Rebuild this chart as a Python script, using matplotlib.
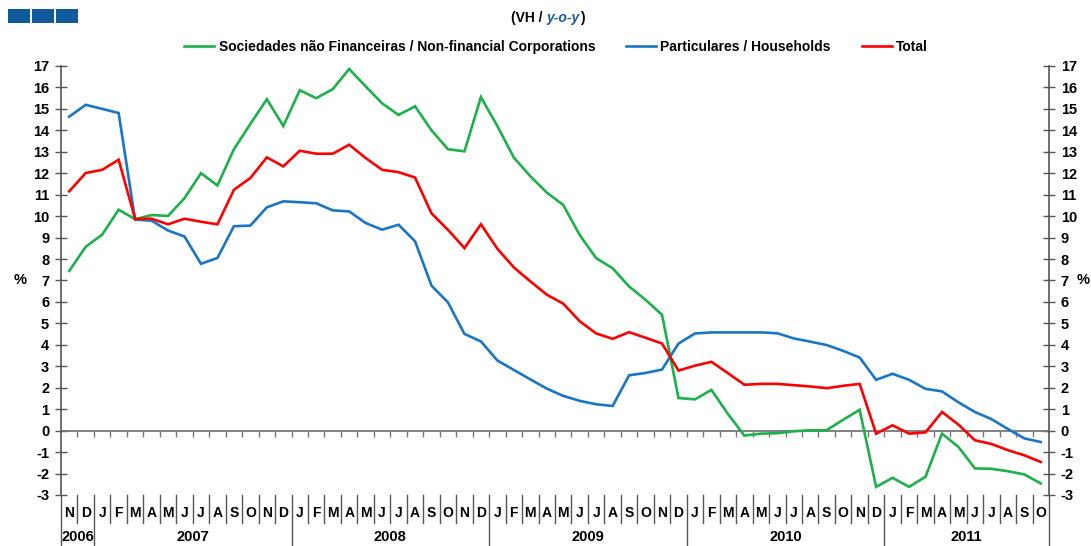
import numpy as np
import matplotlib
matplotlib.use("Agg")
import matplotlib.pyplot as plt
from matplotlib.patches import Rectangle
from matplotlib.lines import Line2D, TICKDOWN
from matplotlib.offsetbox import TextArea, HPacker, AnnotationBbox
import matplotlib.transforms as mtransforms

plt.rcParams['font.family'] = ['Liberation Sans', 'DejaVu Sans']

# ---------------- data ----------------
months = ["N", "D",
          "J", "F", "M", "A", "M", "J", "J", "A", "S", "O", "N", "D",
          "J", "F", "M", "A", "M", "J", "J", "A", "S", "O", "N", "D",
          "J", "F", "M", "A", "M", "J", "J", "A", "S", "O", "N", "D",
          "J", "F", "M", "A", "M", "J", "J", "A", "S", "O", "N", "D",
          "J", "F", "M", "A", "M", "J", "J", "A", "S", "O"]
years = ["2006", "2007", "2008", "2009", "2010", "2011"]
year_counts = [2, 12, 12, 12, 12, 10]

nfc = [7.45, 8.57, 9.14, 10.3, 9.86, 10.05, 10.01, 10.84, 12.0, 11.43,
       13.12, 14.3, 15.45, 14.2, 15.87, 15.5, 15.92, 16.86, 16.05, 15.26,
       14.72, 15.12, 14.0, 13.12, 13.02, 15.55, 14.2, 12.73, 11.86, 11.1,
       10.52, 9.12, 8.04, 7.57, 6.72, 6.1, 5.4, 1.52, 1.46, 1.9,
       0.78, -0.23, -0.14, -0.12, -0.03, 0.02, 0.02, 0.51, 0.97, -2.62,
       -2.2, -2.62, -2.15, -0.14, -0.76, -1.76, -1.78, -1.89, -2.04, -2.46]

households = [14.64, 15.19, 15.0, 14.81, 9.84, 9.79, 9.33, 9.05, 7.78, 8.05,
              9.53, 9.56, 10.41, 10.69, 10.65, 10.6, 10.27, 10.22, 9.68, 9.37,
              9.6, 8.83, 6.76, 5.98, 4.51, 4.16, 3.27, 2.83, 2.39, 1.96,
              1.62, 1.39, 1.23, 1.15, 2.58, 2.69, 2.85, 4.06, 4.53, 4.58,
              4.58, 4.58, 4.58, 4.54, 4.3, 4.15, 3.99, 3.72, 3.41, 2.37,
              2.65, 2.37, 1.95, 1.83, 1.32, 0.87, 0.54, 0.08, -0.36, -0.53]

total = [11.16, 12.01, 12.16, 12.63, 9.87, 9.88, 9.62, 9.88, 9.74, 9.62,
         11.23, 11.78, 12.74, 12.32, 13.05, 12.91, 12.91, 13.33, 12.71, 12.16,
         12.05, 11.8, 10.13, 9.36, 8.51, 9.62, 8.48, 7.61, 6.96, 6.34,
         5.92, 5.1, 4.53, 4.28, 4.59, 4.33, 4.06, 2.8, 3.03, 3.21,
         2.68, 2.14, 2.18, 2.18, 2.12, 2.06, 1.98, 2.09, 2.18, -0.14,
         0.25, -0.14, -0.08, 0.87, 0.28, -0.45, -0.62, -0.91, -1.15, -1.46]

series_labels = ["Sociedades não Financeiras / Non-financial Corporations",
                 "Particulares / Households", "Total"]
series_colors = ["#1db04b", "#1a75c4", "#ff0000"]

yticks = list(range(-3, 18))

# ---------------- figure ----------------
W, H = 1091, 546
fig = plt.figure(figsize=(W / 100, H / 100), dpi=100)
ax_l, ax_r, ax_t, ax_b = 61, 1049, 66, 495
ax = fig.add_axes([ax_l / W, 1 - ax_b / H, (ax_r - ax_l) / W, (ax_b - ax_t) / H])

n = len(months)
x = np.arange(n)
for vals, lab, col in zip([nfc, households, total], series_labels, series_colors):
    ax.plot(x, vals, color=col, lw=1.9, label=lab, solid_joinstyle='miter', zorder=3)

ax.set_xlim(-0.5, n - 0.5)
ax.set_ylim(-3, 17)

for s in ['top', 'bottom']:
    ax.spines[s].set_visible(False)
for s in ['left', 'right']:
    ax.spines[s].set_color('#555555')
    ax.spines[s].set_linewidth(1.2)

ax.set_yticks(yticks)
ax.set_yticklabels([str(v) for v in yticks])
ax.tick_params(axis='y', which='both', direction='inout', length=9, width=1,
               color='#555555', left=True, right=True, labelleft=True,
               labelright=True, labelsize=10.5, pad=4)
for lbl in ax.get_yticklabels():
    lbl.set_fontweight('bold')
ax.set_xticks([])

# zero line with downward ticks at month boundaries
ax.axhline(0, color='#777777', lw=1.3, zorder=2)
bounds = np.arange(n + 1) - 0.5
ax.plot(bounds[1:-1], np.zeros(n - 1), ls='none', marker=TICKDOWN, ms=4,
        mew=1, color='#777777', zorder=2)

# month labels and separators below the plot
trans = mtransforms.blended_transform_factory(ax.transData, ax.transAxes)
ah = ax_b - ax_t
for i, m in enumerate(months):
    ax.text(i, -18 / ah, m, transform=trans, ha='center', va='center',
            fontsize=10, fontweight='bold', clip_on=False)
year_starts = np.cumsum([0] + year_counts)
for b in bounds:
    is_year = (b + 0.5) in year_starts
    y1 = -52 / ah if is_year else -28 / ah
    ax.add_line(Line2D([b, b], [0, y1], transform=trans, color='#555555',
                       lw=1.0, clip_on=False))
for yr, s0, c in zip(years, year_starts[:-1], year_counts):
    ax.text(s0 + c / 2 - 0.5, -42 / ah, yr, transform=trans, ha='center',
            va='center', fontsize=10.5, fontweight='bold', clip_on=False)

# % labels
ytrans = mtransforms.blended_transform_factory(ax.transAxes, ax.transData)
ax.text(-41 / (ax_r - ax_l), 7, "%", transform=ytrans,
        ha='center', va='center', fontsize=10.5, fontweight='bold', clip_on=False)
ax.text(1 + 34 / (ax_r - ax_l), 7, "%", transform=ytrans,
        ha='center', va='center', fontsize=10.5, fontweight='bold', clip_on=False)

# legend
leg = fig.legend(loc='center', bbox_to_anchor=(556 / W, 1 - 47 / H), ncol=3,
                 frameon=False, prop={'weight': 'bold', 'size': 10},
                 handlelength=2.2, handletextpad=0.3, columnspacing=2.2,
                 borderaxespad=0)

# header squares
for x0 in [8.3, 32.3, 56.3]:
    fig.patches.append(Rectangle((x0 / W, 1 - 22.7 / H), 22.0 / W, 13.4 / H,
                                 transform=fig.transFigure, facecolor='#115a9c',
                                 edgecolor='none', lw=0))

# subtitle (VH / y-o-y)
parts = [TextArea("(VH / ", textprops=dict(fontweight='bold', fontsize=10, color='black')),
         TextArea("y-o-y", textprops=dict(fontweight='bold', fontstyle='italic', fontsize=10, color='#1a5aa0')),
         TextArea(")", textprops=dict(fontweight='bold', fontsize=10, color='black'))]
pack = HPacker(children=parts, align='baseline', pad=0, sep=0)
ab = AnnotationBbox(pack, (548 / W, 1 - 18 / H), xycoords='figure fraction',
                    frameon=False, box_alignment=(0.5, 0.5))
fig.add_artist(ab)

fig.savefig("out.png", dpi=100)
